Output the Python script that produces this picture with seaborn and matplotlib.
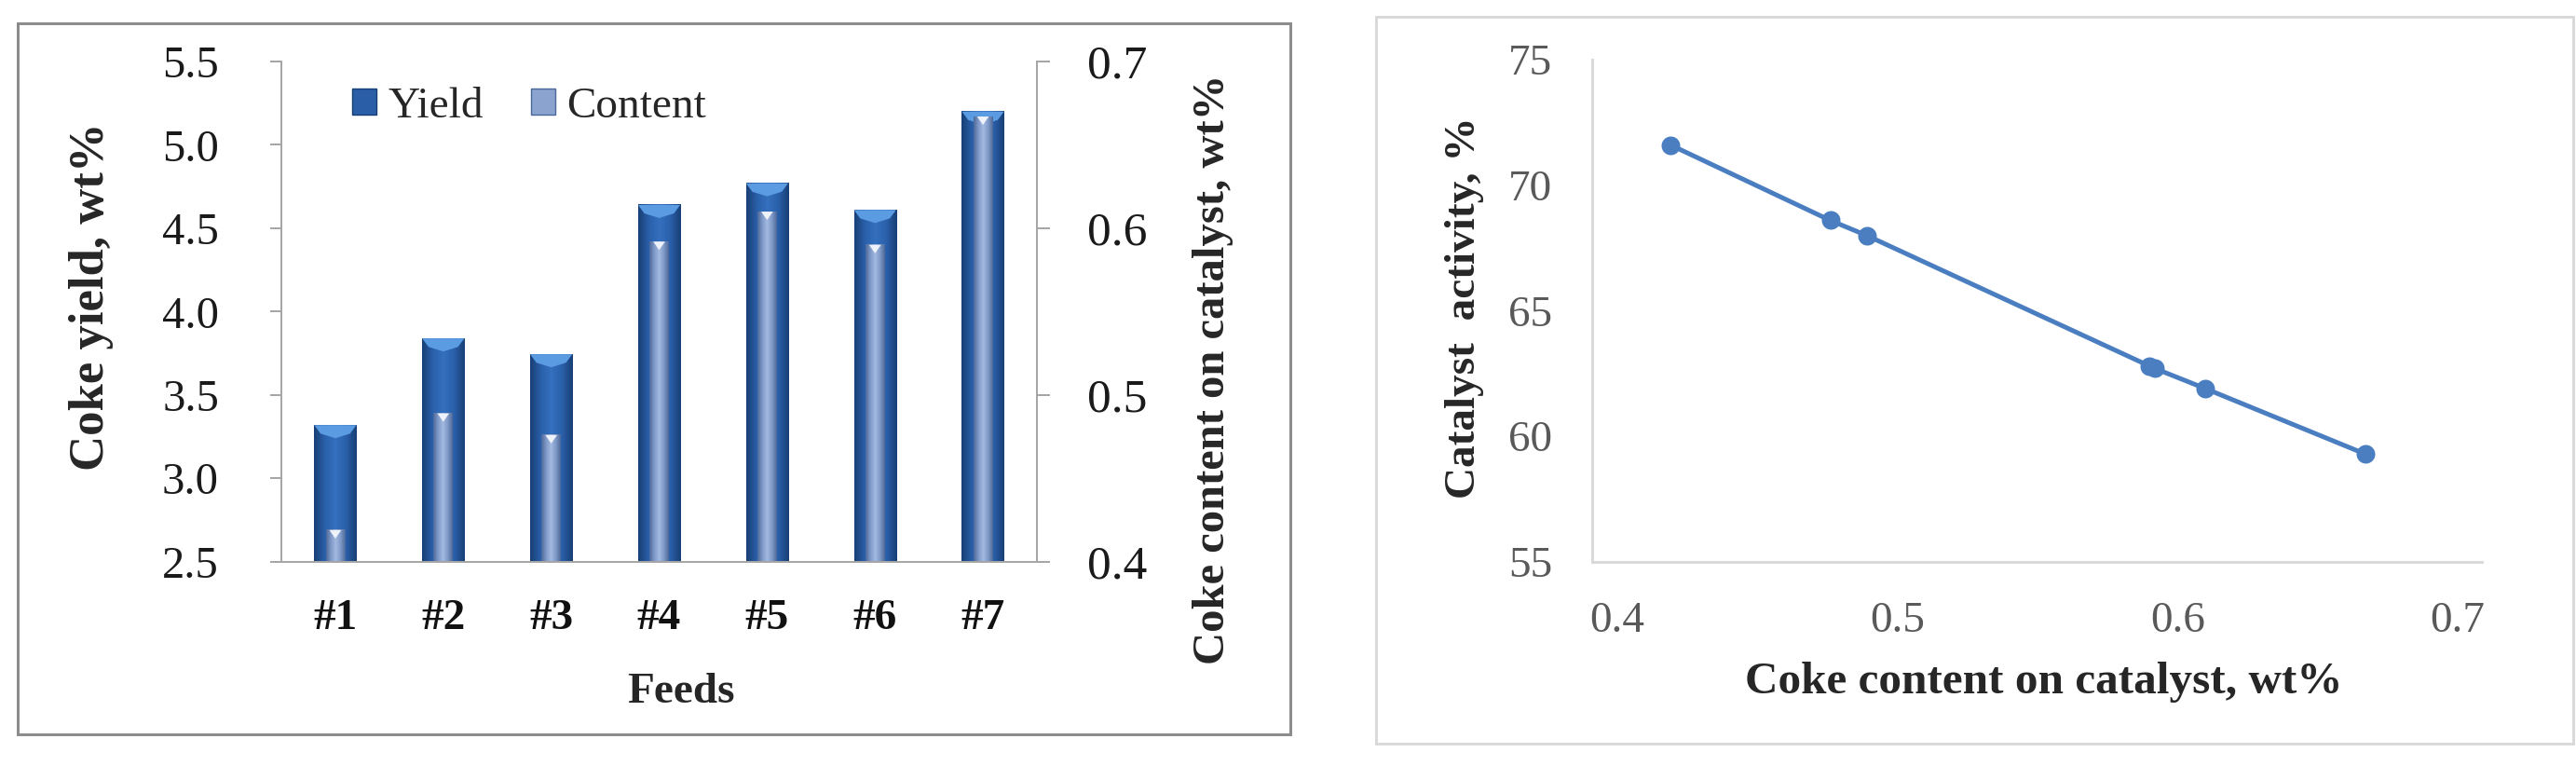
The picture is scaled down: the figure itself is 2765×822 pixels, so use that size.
import numpy as np
import pandas as pd
import seaborn as sns
import matplotlib.pyplot as plt
from matplotlib.patches import Rectangle, Polygon, Patch
from matplotlib.colors import LinearSegmentedColormap

# data
feeds = ['#1', '#2', '#3', '#4', '#5', '#6', '#7']
coke_yield = [3.32, 3.84, 3.745, 4.64, 4.77, 4.61, 5.20]
coke_content = [0.419, 0.489, 0.476, 0.592, 0.610, 0.590, 0.667]
activity = [71.6, 68.0, 68.6, 62.7, 61.9, 62.8, 59.3]

yield_ticks = [2.5, 3.0, 3.5, 4.0, 4.5, 5.0, 5.5]
content_ticks = [0.4, 0.5, 0.6, 0.7]
activity_ticks = [55, 60, 65, 70, 75]

df = pd.DataFrame({'feed': feeds, 'yield': coke_yield, 'content': coke_content, 'activity': activity})

sns.set_style('white')
plt.rcParams['font.family'] = ['Liberation Serif', 'DejaVu Serif']

W, H = 2765, 822
fig = plt.figure(figsize=(W / 100, H / 100), dpi=100)


def px(v):
    # pixels -> points at dpi 100
    return v * 0.72


# panel frames
fig.add_artist(Rectangle((19 / W, 1 - 788 / H), (1385 - 19) / W, (788 - 25) / H,
                         transform=fig.transFigure, fill=False, edgecolor='#8C8C8C', lw=px(3)))
fig.add_artist(Rectangle((1477 / W, 1 - 798 / H), (2762 - 1477) / W, (798 - 18) / H,
                         transform=fig.transFigure, fill=False, edgecolor='#D9D9D9', lw=px(3)))


def shade(ax, patch, colors):
    # horizontal gradient over the visible part of a bar
    lo = ax.get_ylim()[0]
    x0, w = patch.get_x(), patch.get_width()
    top = patch.get_y() + patch.get_height()
    cmap = LinearSegmentedColormap.from_list('g', colors)
    ax.imshow(np.linspace(0, 1, 256)[None, :], cmap=cmap, aspect='auto',
              extent=[x0, x0 + w, lo, top], zorder=patch.get_zorder() + 0.1)


def caps(ax, bars, dh, color, inner=False):
    for b in bars:
        x0, w, top = b.get_x(), b.get_width(), b.get_y() + b.get_height()
        xc = x0 + w / 2
        if inner:
            pts = [(xc - 0.3 * w, top), (xc + 0.3 * w, top), (xc, top - dh)]
        else:
            pts = [(x0, top), (x0 + w, top), (x0 + 0.85 * w, top - 0.65 * dh),
                   (xc, top - dh), (x0 + 0.15 * w, top - 0.65 * dh)]
        ax.add_patch(Polygon(pts, closed=True, facecolor=color, edgecolor='none', zorder=3))


# ---------------- left panel: bars ----------------
ax = fig.add_axes([302 / W, 1 - 603 / H, 811 / W, 537 / H])
ax2 = ax.twinx()

sns.barplot(data=df, x='feed', y='yield', width=0.39, color='#2A5FA8', saturation=1,
            linewidth=0, ax=ax)
sns.barplot(data=df, x='feed', y='content', width=0.18, color='#8AA3CF', saturation=1,
            linewidth=0, ax=ax2)

ax.set_xlim(-0.5, 6.5)
ax2.set_xlim(-0.5, 6.5)
ax.set_ylim(2.5, 5.5)
ax2.set_ylim(0.4, 0.7)

yb = list(ax.patches)
cb = list(ax2.patches)
for b in yb:
    shade(ax, b, ['#183E74', '#2A60AA', '#3570BE', '#2A60AA', '#183E74'])
for b in cb:
    shade(ax2, b, ['#4C6898', '#7F99C8', '#A3BAE0', '#7F99C8', '#4C6898'])
ax.set_xlim(-0.5, 6.5)
ax2.set_xlim(-0.5, 6.5)
ax.set_ylim(2.5, 5.5)
ax2.set_ylim(0.4, 0.7)
caps(ax, yb, 3.0 * 14 / 537, '#5B9BE2')
caps(ax2, cb, 0.3 * 9 / 537, '#EEF3FB', inner=True)

ax.set_yticks(yield_ticks)
ax.set_yticklabels([f'{t:.1f}' for t in yield_ticks])
ax2.set_yticks(content_ticks)
ax2.set_yticklabels([f'{t:.1f}' for t in content_ticks])

ax.set_xticks(range(len(feeds)))
ax.set_xticklabels(feeds, fontweight='bold')
ax.set_xticks(np.arange(-0.5, len(feeds), 1.0), minor=True)
ax.tick_params(axis='x', which='major', length=0, pad=px(40), labelsize=34, labelcolor='#111111')
ax.tick_params(axis='x', which='minor', length=px(13), width=px(2), color='#A6A6A6', direction='out')
ax.tick_params(axis='y', length=px(12), width=px(2), color='#A6A6A6', direction='out',
               pad=px(55), labelsize=35, labelcolor='#1A1A1A', left=True)
ax2.tick_params(axis='y', length=px(14), width=px(2), color='#A6A6A6', direction='out',
                pad=px(40), labelsize=37, labelcolor='#1A1A1A', right=True)

for a in (ax, ax2):
    for s in a.spines.values():
        s.set_color('#A6A6A6')
        s.set_linewidth(px(2))
    a.spines['top'].set_visible(False)
    a.grid(False)

ax.set_xlabel('Feeds', fontsize=34, fontweight='bold', va='center')
ax.xaxis.set_label_coords(0.529, -0.26)
ax.set_ylabel('Coke yield, wt%', fontsize=38, fontweight='bold', va='center')
ax.yaxis.set_label_coords(-0.2515, 0.53)
ax2.set_ylabel('Coke content on catalyst, wt%', fontsize=35, fontweight='bold', va='center')
ax2.yaxis.set_label_coords(1.233, 0.385)

handles = [Patch(facecolor='#2A5FA8', edgecolor='#183E74', lw=1),
           Patch(facecolor='#8AA3CF', edgecolor='#4C6898', lw=1)]
ax2.legend(handles, ['Yield', 'Content'], ncol=2, frameon=False, fontsize=34,
           loc='center left', bbox_to_anchor=(0.094, 0.91), borderaxespad=0, borderpad=0,
           handlelength=0.55, handleheight=0.55, handletextpad=0.25, columnspacing=1.1)

# ---------------- right panel: activity vs content ----------------
axr = fig.add_axes([1709 / W, 1 - 603 / H, 955 / W, 539 / H])
sns.lineplot(data=df, x='content', y='activity', sort=True, marker='o', color='#4A7EC0',
             linewidth=px(5), markersize=px(20), markeredgewidth=0, ax=axr)
axr.set_xlim(0.391, 0.7087)
axr.set_ylim(55, 75)
axr.set_xticks(content_ticks)
axr.set_xticklabels([f'{t:.1f}' for t in content_ticks])
axr.set_yticks(activity_ticks)
axr.tick_params(axis='both', length=0, labelsize=34, labelcolor='#595959')
axr.tick_params(axis='y', pad=px(43))
axr.tick_params(axis='x', pad=px(42))
for k, s in axr.spines.items():
    s.set_color('#D9D9D9')
    s.set_linewidth(px(3))
axr.spines['top'].set_visible(False)
axr.spines['right'].set_visible(False)
axr.grid(False)
axr.set_xlabel('Coke content on catalyst, wt%', fontsize=35.5, fontweight='bold', va='center')
axr.xaxis.set_label_coords(0.508, -0.239)
axr.set_ylabel('Catalyst  activity, %', fontsize=34, fontweight='bold', va='center')
axr.yaxis.set_label_coords(-0.1435, 0.506)

fig.savefig('out.png', dpi=100)
